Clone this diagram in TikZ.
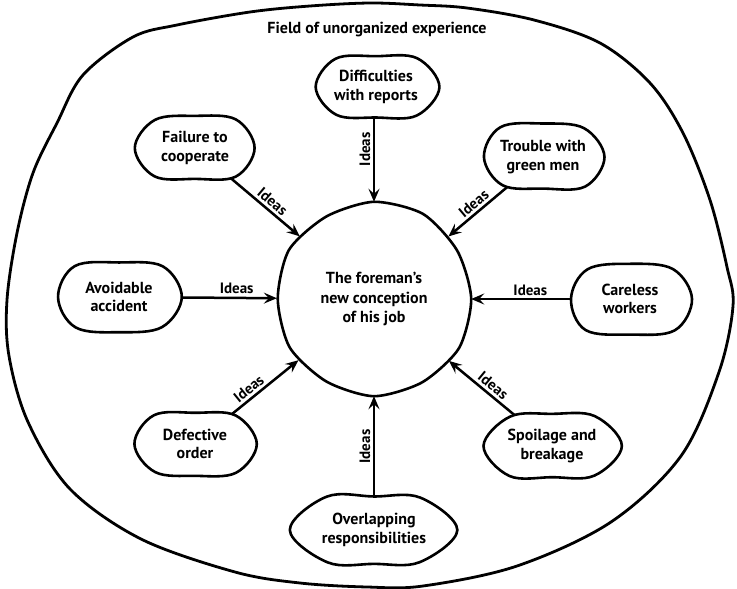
\documentclass[tikz,border=0pt]{standalone}
\usepackage{fontspec}
\setmainfont{PT Sans}
\usetikzlibrary{shapes.geometric,calc,arrows.meta}

\pgfdeclarelayer{flows}
\pgfdeclarelayer{outlines}
\pgfsetlayers{flows,outlines,main}

\tikzset{
  txt/.style={font=\fontsize{16}{18.5}\selectfont\bfseries},
  blobnode/.style={ellipse, draw=none, align=center, inner sep=0pt, txt},
  corenode/.style={circle, draw=none, align=center, inner sep=0pt,
    minimum size=194pt, font=\fontsize{16}{19.5}\selectfont\bfseries},
  outline/.style={line width=2.6pt, line join=round},
  flow/.style={line width=2.5pt, -{Stealth[length=13pt,width=11pt,inset=5pt]}},
  idea/.style={font=\fontsize{15}{17}\selectfont\bfseries, inner sep=2.5pt},
}

% hand-drawn outline round a node: eight stretch factors, counter-clockwise from east
\newcommand\blobshape[9]{%
  \draw[outline, fill=white] plot[smooth cycle, tension=0.6] coordinates {
    ($(#1.center)!#2!(#1.0)$)   ($(#1.center)!#3!(#1.35)$)
    ($(#1.center)!#4!(#1.90)$)  ($(#1.center)!#5!(#1.145)$)
    ($(#1.center)!#6!(#1.180)$) ($(#1.center)!#7!(#1.215)$)
    ($(#1.center)!#8!(#1.270)$) ($(#1.center)!#9!(#1.325)$)};}

\begin{document}
\begin{tikzpicture}[x=1pt, y=-1pt]
\useasboundingbox (0,0) rectangle (737,589);

% outer field
\draw[line width=2.8pt] plot[smooth cycle, tension=0.55] coordinates {
  (370,3) (420,5) (467,8) (534,20) (600,43) (650,83) (683,133) (710,200)
  (727,267) (733,306) (719,372) (681,456) (611,522) (517,566) (423,586)
  (367,587) (300,583) (235,572) (141,539) (70,489) (28,422) (9,356)
  (7,300) (17,233) (33,173) (57,123) (83,75) (133,37) (177,25) (250,12) (310,6)};

\node[txt] (title) at (377,30) {Field of unorganized experience};

% central conception
\node[corenode] (core) at (374,299) {The foreman's\\new conception\\of his job};
\draw[outline] plot[smooth cycle, tension=0.45] coordinates {
  ($(core.center)!1.00!(core.0)$)   ($(core.center)!0.99!(core.30)$)
  ($(core.center)!1.01!(core.60)$)  ($(core.center)!1.00!(core.90)$)
  ($(core.center)!0.98!(core.120)$) ($(core.center)!1.01!(core.150)$)
  ($(core.center)!0.99!(core.180)$) ($(core.center)!1.00!(core.210)$)
  ($(core.center)!0.98!(core.240)$) ($(core.center)!1.00!(core.270)$)
  ($(core.center)!0.99!(core.300)$) ($(core.center)!1.01!(core.330)$)};

% sources of ideas
\node[blobnode, minimum width=124pt, minimum height=60pt] (diff)    at (376,87)  {Difficulties\\with reports};
\node[blobnode, minimum width=120pt, minimum height=62pt] (fail)    at (195,148) {Failure to\\cooperate};
\node[blobnode, minimum width=118pt, minimum height=64pt] (trouble) at (543,157) {Trouble with\\green men};
\node[blobnode, minimum width=124pt, minimum height=68pt] (avoid)   at (119,297) {Avoidable\\accident};
\node[blobnode, minimum width=120pt, minimum height=70pt] (care)    at (630,299) {Careless\\workers};
\node[blobnode, minimum width=122pt, minimum height=62pt] (defect)  at (195,444) {Defective\\order};
\node[blobnode, minimum width=138pt, minimum height=62pt] (spoil)   at (552,446) {Spoilage and\\breakage};
\node[blobnode, minimum width=168pt, minimum height=66pt] (overlap) at (374,530) {Overlapping\\responsibilities};

% flows of ideas into the conception
\begin{pgfonlayer}{flows}
\draw[flow] (diff.south -| core.north) -- node[idea, pos=0.38, rotate=90, anchor=south] {Ideas} (core.north);
\draw[flow] (fail) -- node[idea, sloped, above, pos=0.55] {Ideas} (core);
\draw[flow] (trouble) -- node[idea, sloped, above, pos=0.5] {Ideas} (core);
\draw[flow] (avoid) -- node[idea, above, pos=0.58] {Ideas} (core);
\draw[flow] (care) -- node[idea, above, pos=0.4] {Ideas} (core);
\draw[flow] (defect) -- node[idea, sloped, above, pos=0.38] {Ideas} (core);
\draw[flow] (spoil) -- node[idea, sloped, above, pos=0.45] {Ideas} (core);
\draw[flow] (overlap.north -| core.south) -- node[idea, pos=0.5, rotate=90, anchor=south] {Ideas} (core.south);
\end{pgfonlayer}

% blob outlines, over the tails of the arrows and under the texts
\begin{pgfonlayer}{outlines}
\blobshape{diff}{1.02}{1.16}{1.02}{1.14}{0.97}{1.12}{1.01}{1.15}
\blobshape{fail}{0.99}{1.14}{1.03}{1.12}{1.00}{1.13}{0.99}{1.14}
\blobshape{trouble}{1.01}{1.12}{1.04}{1.16}{0.97}{1.10}{0.98}{1.15}
\blobshape{avoid}{1.01}{1.14}{1.01}{1.15}{0.98}{1.13}{1.03}{1.12}
\blobshape{care}{1.03}{1.11}{1.00}{1.10}{0.98}{1.15}{1.01}{1.16}
\blobshape{defect}{1.01}{1.13}{1.00}{1.14}{0.99}{1.11}{1.02}{1.14}
\blobshape{spoil}{1.01}{1.14}{1.03}{1.12}{0.99}{1.14}{1.00}{1.13}
\blobshape{overlap}{0.99}{1.12}{1.01}{1.15}{1.00}{1.12}{1.02}{1.11}
\end{pgfonlayer}
\end{tikzpicture}
\end{document}
